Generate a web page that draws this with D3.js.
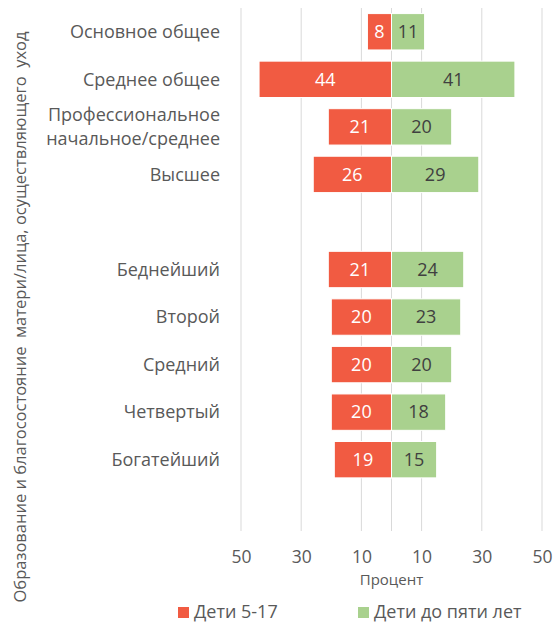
<!DOCTYPE html>
<html><head><meta charset="utf-8">
<script src="https://cdn.jsdelivr.net/npm/d3@7/dist/d3.min.js"></script>
<style>body{margin:0;background:#fff}svg{display:block}</style>
</head><body><svg id="c" width="556" height="624"></svg>
<script>
const categories = ["Основное общее","Среднее общее","Профессиональное\nначальное/среднее","Высшее","gap1","Беднейший","Второй","Средний","Четвертый","Богатейший","gap2"];
const labels = ["Основное общее","Среднее общее","Профессиональное\nначальное/среднее","Высшее","","Беднейший","Второй","Средний","Четвертый","Богатейший",""];
const older = [8,44,21,26,null,21,20,20,20,19,null];
const younger = [11,41,20,29,null,24,23,20,18,15,null];
const tickValues = [-50,-30,-10,10,30,50];
const gridValues = [-50,-30,-10,0,10,30,50];
const seriesNames = ["Дети 5-17","Дети до пяти лет"];
const colors = ["#F15B42","#A9D18E"];
const font = "'Open Sans', sans-serif";

const svg = d3.select("#c");
const x = d3.scaleLinear().domain([-50,50]).range([241,542]);
const y = d3.scaleBand().domain(categories).range([8,531]).paddingInner(0.235).paddingOuter(0.1175);

svg.append("g").selectAll("line").data(gridValues).join("line")
  .attr("x1",d=>x(d)).attr("x2",d=>x(d)).attr("y1",8).attr("y2",531)
  .attr("stroke","#d9d9d9").attr("stroke-width",1);

const rows = categories.map((c,i)=>({c,i,o:older[i],yv:younger[i]})).filter(d=>d.o!=null);

svg.append("g").selectAll("rect").data(rows).join("rect")
  .attr("x",d=>x(-d.o)).attr("width",d=>x(0)-x(-d.o))
  .attr("y",d=>y(d.c)).attr("height",y.bandwidth())
  .attr("fill",colors[0]).attr("stroke","#fff").attr("stroke-width",1);
svg.append("g").selectAll("rect").data(rows).join("rect")
  .attr("x",x(0)).attr("width",d=>x(d.yv)-x(0))
  .attr("y",d=>y(d.c)).attr("height",y.bandwidth())
  .attr("fill",colors[1]).attr("stroke","#fff").attr("stroke-width",1);

svg.append("g").selectAll("text").data(rows).join("text")
  .attr("x",d=>(x(-d.o)+x(0))/2).attr("y",d=>y(d.c)+y.bandwidth()/2)
  .attr("dy","0.35em").attr("text-anchor","middle")
  .attr("font-family",font).attr("font-size",18).attr("fill","#fff").text(d=>d.o);
svg.append("g").selectAll("text").data(rows).join("text")
  .attr("x",d=>(x(d.yv)+x(0))/2).attr("y",d=>y(d.c)+y.bandwidth()/2)
  .attr("dy","0.35em").attr("text-anchor","middle")
  .attr("font-family",font).attr("font-size",18).attr("fill","#404040").text(d=>d.yv);

// category labels
const lg = svg.append("g");
categories.forEach((c,i)=>{
  const lines = labels[i].split("\n").filter(s=>s);
  const cy = y(c)+y.bandwidth()/2;
  lines.forEach((s,j)=>{
    lg.append("text").attr("x",220).attr("y",cy+(j-(lines.length-1)/2)*24)
      .attr("dy","0.35em").attr("text-anchor","end")
      .attr("font-family",font).attr("font-size",18).attr("fill","#595959").text(s);
  });
});

// x axis labels
const xAxis = d3.axisBottom(x).tickValues(tickValues).tickFormat(d=>Math.abs(d)).tickSize(0);
const ax = svg.append("g").attr("transform","translate(0,548)").call(xAxis);
ax.select(".domain").remove();
ax.selectAll("text").attr("font-family",font).attr("font-size",17.5).attr("fill","#595959");

svg.append("text").attr("x",x(0)).attr("y",585).attr("text-anchor","middle")
  .attr("font-family",font).attr("font-size",15).attr("fill","#595959").text("Процент");

svg.append("text").attr("transform","translate(20,317) rotate(-90)")
  .attr("dy","0.35em")
  .attr("text-anchor","middle").attr("font-family",font).attr("font-size",16.5).attr("fill","#595959")
  .attr("xml:space","preserve").style("white-space","pre")
  .text("Образование и благосостояние  матери/лица, осуществляющего  уход");

// legend
const legX = [178,358];
seriesNames.forEach((n,i)=>{
  svg.append("rect").attr("x",legX[i]).attr("y",607).attr("width",11).attr("height",11).attr("fill",colors[i]);
  svg.append("text").attr("x",legX[i]+16).attr("y",612).attr("dy","0.35em")
    .attr("font-family",font).attr("font-size",18).attr("fill","#595959").text(n);
});
</script></body></html>
